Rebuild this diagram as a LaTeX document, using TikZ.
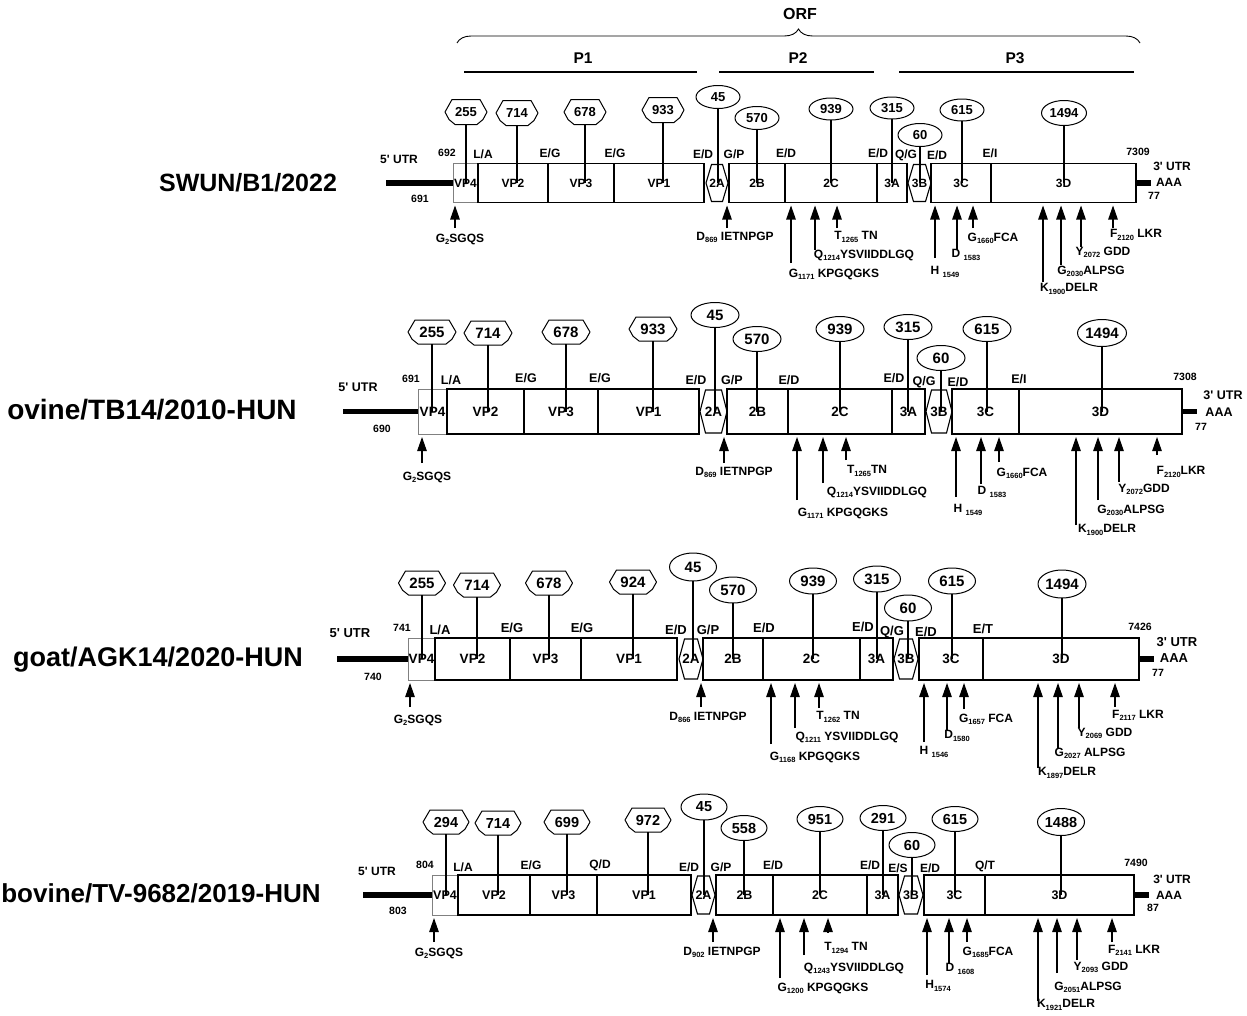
\documentclass[tikz,border=0pt]{standalone}
\usepackage{fontspec}
\setmainfont{Liberation Sans}
\usetikzlibrary{arrows.meta,shapes.geometric,decorations.pathreplacing}
\newcommand\fs[1]{\fontsize{#1}{#1}\selectfont\bfseries}
\newcommand\sub[1]{\raisebox{-0.35ex}{\fontsize{7.5}{8}\selectfont\bfseries #1}}
\newcommand\q{\textquotesingle}
\def\segsz{12}\def\numsz{13}
\tikzset{
 every node/.style={inner sep=0pt,outer sep=0pt,font=\fs{12}},
 segbox/.style={draw,line width=1.1pt,font=\fs{\segsz}},
 vpfour/.style={draw=black!50,line width=0.7pt,font=\fs{\segsz}},
 hexline/.style={line width=1.1pt},
 octline/.style={line width=1pt,line join=round},
 ovalbox/.style={draw,ellipse,line width=1pt,font=\fs{\numsz}},
 stemline/.style={line width=1.1pt},
 cutarr/.style={line width=1.1pt,shorten >=3pt,-{Triangle[width=9.5pt,length=14pt]}},
 utrline/.style={line width=5.5pt},
 pline/.style={line width=2pt},
}
\newcommand\gseg[7][segbox]{\node[#1,minimum width={#4-#3},minimum height={#6}] (#2) at ({(#3+#4)/2},#5) {#7};}
\newcommand\ghex[6]{\node[font=\fs{\segsz},minimum width={#3-#2},minimum height={#5}] (#1) at ({(#2+#3)/2},#4) {#6};
\draw[hexline] (#1.west) -- ([xshift=5.5pt]#1.north west) -- ([xshift=-5.5pt]#1.north east) -- (#1.east) -- ([xshift=-5.5pt]#1.south east) -- ([xshift=5.5pt]#1.south west) -- cycle;}
\newcommand\goct[6]{\node[font=\fs{\numsz},minimum width={2*#4},minimum height={2*#5}] (#1) at (#2,#3) {#6};
\draw[octline] (#1.west) -- ([xshift=7pt]#1.north west) -- ([xshift=-7pt]#1.north east) -- (#1.east)
 -- ([shift={(-4pt,{-0.6*#5*1pt})}]#1.east) -- ([xshift=-10pt]#1.south east) -- ([xshift=10pt]#1.south west)
 -- ([shift={(4pt,{-0.6*#5*1pt})}]#1.west) -- cycle;}
\newcommand\goval[6]{\node[ovalbox,minimum width=#4,minimum height=#5] (#1) at (#2,#3) {#6};}
\newcommand\gstem[2]{\draw[stemline] (#1.south) -- (#1.south |- #2.center);}
\newcommand\gcut[7]{\coordinate (#1) at (#2,#3);
\draw[cutarr] (#1) -- (#1 |- #4.south);
\node (#1l) at (#6,#7) {#5};}
\newcommand\glab[5]{\node[font=\fs{#4}] (#1) at (#2,#3) {#5};}
\begin{document}
\begin{tikzpicture}[x=1pt,y=-1pt]
\useasboundingbox (0,0) rectangle (1247,1015);
\fill[white] (0,0) rectangle (1247,1015);
% header
\node[font=\fs{16}] (orf) at (800,14) {ORF};
\coordinate (brL) at (457,43); \coordinate (brR) at (1140,43);
\draw[line width=0.9pt,decorate,decoration={brace,amplitude=14pt}] (brL) -- (brR);
\node[font=\fs{15.5}] (pone) at (583,58) {P1};
\node[font=\fs{15.5}] (ptwo) at (798,58) {P2};
\node[font=\fs{15.5}] (pthree) at (1015,58) {P3};
\coordinate (p1a) at (464,72); \coordinate (p1b) at (697,72);
\coordinate (p2a) at (719,72); \coordinate (p2b) at (874,72);
\coordinate (p3a) at (899,72); \coordinate (p3b) at (1134,72);
\draw[pline] (p1a) -- (p1b);
\draw[pline] (p2a) -- (p2b);
\draw[pline] (p3a) -- (p3b);
% titles
\node[font=\fs{25}] (tA) at (248,183) {SWUN/B1/2022};
\node[font=\fs{28}] (tB) at (152,410) {ovine/TB14/2010-HUN};
\node[font=\fs{27}] (tC) at (158,660) {goat/AGK14/2020-HUN};
\node[font=\fs{26}] (tD) at (161,893) {bovine/TV-9682/2019-HUN};

% ================= ROW 1
\def\segsz{12}\def\numsz{13}
\coordinate (aU5) at (386,183); \coordinate (aU3) at (1151,183);
\gseg[vpfour]{aV4}{453}{478}{183}{39}{VP4}
\gseg{aV2}{478}{548}{183}{39}{VP2}
\gseg{aV3}{548}{614}{183}{39}{VP3}
\gseg{aV1}{614}{704}{183}{39}{VP1}
\ghex{a2A}{706}{728}{183}{37}{2A}
\gseg{a2B}{729}{785}{183}{39}{2B}
\gseg{a2C}{785}{877}{183}{39}{2C}
\gseg{a3A}{877}{907}{183}{39}{3A}
\ghex{a3B}{908}{931}{183}{37}{3B}
\gseg{a3C}{931}{991}{183}{39}{3C}
\gseg{a3D}{991}{1136}{183}{39}{3D}
\draw[utrline] (aU5) -- (aV4.west);
\draw[utrline] (a3D.east) -- (aU3);
\goct{aN1}{466}{112}{21}{12.5}{255}
\goct{aN2}{517}{113}{21}{12.5}{714}
\goct{aN3}{585}{112}{21}{12.5}{678}
\goct{aN4}{663}{110}{21}{12.5}{933}
\goval{aN5}{718}{97}{44}{23}{45}
\goval{aN6}{757}{118}{44}{23}{570}
\goval{aN7}{831}{109}{44}{22}{939}
\goval{aN8}{892}{108}{44}{22}{315}
\goval{aN9}{920}{135}{44}{23}{60}
\goval{aN10}{962}{110}{44}{22}{615}
\goval{aN11}{1064}{113}{45}{25}{1494}
\gstem{aN1}{aV4}\gstem{aN2}{aV2}\gstem{aN3}{aV3}\gstem{aN4}{aV1}
\gstem{aN5}{a2A}\gstem{aN6}{a2B}\gstem{aN7}{a2C}\gstem{aN8}{a3A}
\gstem{aN9}{a3B}\gstem{aN10}{a3C}\gstem{aN11}{a3D}
\glab{aL1}{399}{159}{12}{5\q\ UTR}
\glab{aL2}{420}{199}{10.5}{691}
\glab{aL3}{447}{153}{10.5}{692}
\glab{aL4}{483}{154}{12}{L/A}
\glab{aL5}{550}{153}{12}{E/G}
\glab{aL6}{615}{153}{12}{E/G}
\glab{aL7}{703}{154}{12}{E/D}
\glab{aL8}{734}{154}{12}{G/P}
\glab{aL9}{786}{153}{12}{E/D}
\glab{aL10}{878}{153}{12}{E/D}
\glab{aL11}{906}{155}{12}{Q/G}
\glab{aL12}{937}{155}{12}{E/D}
\glab{aL13}{990}{153}{12}{E/I}
\glab{aL14}{1138}{152}{10.5}{7309}
\glab{aL15}{1172}{166}{12}{3\q\ UTR}
\glab{aL16}{1169}{182}{12}{AAA}
\glab{aL17}{1154}{196}{10.5}{77}
\gcut{aC1}{455}{228}{aV4}{G\sub{2}SGQS}{460}{239}
\gcut{aC2}{727}{228}{a2B}{D\sub{869} IETNPGP}{735}{237}
\gcut{aC3}{791}{263}{a2C}{G\sub{1171} KPGQGKS}{834}{274}
\gcut{aC4}{815}{250}{a2C}{Q\sub{1214}YSVIIDDLGQ}{864}{255}
\gcut{aC5}{837}{228}{a2C}{T\sub{1265} TN}{856}{237}
\gcut{aC6}{935}{258}{a3C}{H \sub{1549}}{945}{272}
\gcut{aC7}{957}{250}{a3C}{D \sub{1583}}{966}{255}
\gcut{aC8}{973}{228}{a3C}{G\sub{1660}FCA}{993}{238}
\gcut{aC9}{1043}{282}{a3D}{K\sub{1900}DELR}{1069}{289}
\gcut{aC10}{1061}{265}{a3D}{G\sub{2030}ALPSG}{1091}{271}
\gcut{aC11}{1081}{247}{a3D}{Y\sub{2072} GDD}{1103}{252}
\gcut{aC12}{1113}{228}{a3D}{F\sub{2120} LKR}{1136}{235}

% ================= ROW 2
\def\segsz{13.5}\def\numsz{15}
\coordinate (bU5) at (343,411.5); \coordinate (bU3) at (1197,411.5);
\gseg[vpfour]{bV4}{418}{447}{411.5}{45}{VP4}
\gseg{bV2}{447}{524}{411.5}{45}{VP2}
\gseg{bV3}{524}{598}{411.5}{45}{VP3}
\gseg{bV1}{598}{699}{411.5}{45}{VP1}
\ghex{b2A}{700}{727}{411.5}{43}{2A}
\gseg{b2B}{727}{788}{411.5}{45}{2B}
\gseg{b2C}{788}{892}{411.5}{45}{2C}
\gseg{b3A}{892}{925}{411.5}{45}{3A}
\ghex{b3B}{926}{952}{411.5}{43}{3B}
\gseg{b3C}{952}{1019}{411.5}{45}{3C}
\gseg{b3D}{1019}{1182}{411.5}{45}{3D}
\draw[utrline] (bU5) -- (bV4.west);
\draw[utrline] (b3D.east) -- (bU3);
\goct{bN1}{432}{332}{24}{12}{255}
\goct{bN2}{488}{333}{24}{12}{714}
\goct{bN3}{566}{332}{24}{12}{678}
\goct{bN4}{653}{329}{24}{12}{933}
\goval{bN5}{715}{315}{48}{25}{45}
\goval{bN6}{757}{339}{48}{25}{570}
\goval{bN7}{840}{329}{48}{25}{939}
\goval{bN8}{908}{327}{48}{25}{315}
\goval{bN9}{941}{358}{48}{25}{60}
\goval{bN10}{987}{329}{48}{25}{615}
\goval{bN11}{1102}{333}{49}{27}{1494}
\gstem{bN1}{bV4}\gstem{bN2}{bV2}\gstem{bN3}{bV3}\gstem{bN4}{bV1}
\gstem{bN5}{b2A}\gstem{bN6}{b2B}\gstem{bN7}{b2C}\gstem{bN8}{b3A}
\gstem{bN9}{b3B}\gstem{bN10}{b3C}\gstem{bN11}{b3D}
\glab{bL1}{358}{387}{12.5}{5\q\ UTR}
\glab{bL2}{382}{429}{10.5}{690}
\glab{bL3}{411}{379}{10.5}{691}
\glab{bL4}{451}{380}{12.5}{L/A}
\glab{bL5}{526}{378}{12.5}{E/G}
\glab{bL6}{600}{378}{12.5}{E/G}
\glab{bL7}{696}{380}{12.5}{E/D}
\glab{bL8}{732}{380}{12.5}{G/P}
\glab{bL9}{789}{380}{12.5}{E/D}
\glab{bL10}{894}{378}{12.5}{E/D}
\glab{bL11}{924}{382}{12.5}{Q/G}
\glab{bL12}{958}{382}{12.5}{E/D}
\glab{bL13}{1019}{379}{12.5}{E/I}
\glab{bL14}{1185}{377}{10.5}{7308}
\glab{bL15}{1223}{395}{12.5}{3\q\ UTR}
\glab{bL16}{1219}{412}{12.5}{AAA}
\glab{bL17}{1201}{427}{10.5}{77}
\gcut{bC1}{422}{463}{bV4}{G\sub{2}SGQS}{427}{477}
\gcut{bC2}{724}{463}{b2B}{D\sub{869} IETNPGP}{734}{472}
\gcut{bC3}{797}{500}{b2C}{G\sub{1171} KPGQGKS}{843}{513}
\gcut{bC4}{823}{483}{b2C}{Q\sub{1214}YSVIIDDLGQ}{877}{492}
\gcut{bC5}{846}{460}{b2C}{T\sub{1265}TN}{867}{471}
\gcut{bC6}{956}{497}{b3C}{H \sub{1549}}{968}{510}
\gcut{bC7}{981}{484}{b3C}{D \sub{1583}}{992}{492}
\gcut{bC8}{999}{462}{b3C}{G\sub{1660}FCA}{1022}{473}
\gcut{bC9}{1076}{525}{b3D}{K\sub{1900}DELR}{1107}{530}
\gcut{bC10}{1098}{500}{b3D}{G\sub{2030}ALPSG}{1131}{510}
\gcut{bC11}{1119}{482}{b3D}{Y\sub{2072}GDD}{1144}{489}
\gcut{bC12}{1157}{455}{b3D}{F\sub{2120}LKR}{1181}{472}

% ================= ROW 3
\def\segsz{13.5}\def\numsz{15}
\coordinate (cU5) at (337,659); \coordinate (cU3) at (1154,659);
\gseg[vpfour]{cV4}{408}{435}{659}{42}{VP4}
\gseg{cV2}{435}{510}{659}{42}{VP2}
\gseg{cV3}{510}{581}{659}{42}{VP3}
\gseg{cV1}{581}{677}{659}{42}{VP1}
\ghex{c2A}{679}{703}{659}{40}{2A}
\gseg{c2B}{703}{763}{659}{42}{2B}
\gseg{c2C}{763}{860}{659}{42}{2C}
\gseg{c3A}{860}{893}{659}{42}{3A}
\ghex{c3B}{894}{918}{659}{40}{3B}
\gseg{c3C}{919}{983}{659}{42}{3C}
\gseg{c3D}{983}{1139}{659}{42}{3D}
\draw[utrline] (cU5) -- (cV4.west);
\draw[utrline] (c3D.east) -- (cU3);
\goct{cN1}{422}{583}{23.5}{12}{255}
\goct{cN2}{477}{585}{23.5}{12}{714}
\goct{cN3}{549}{583}{23.5}{12}{678}
\goct{cN4}{633}{582}{23.5}{12}{924}
\goval{cN5}{693}{567}{47}{28}{45}
\goval{cN6}{733}{590}{47}{26}{570}
\goval{cN7}{813}{581}{47}{26}{939}
\goval{cN8}{877}{579}{47}{26}{315}
\goval{cN9}{908}{608}{47}{26}{60}
\goval{cN10}{952}{581}{47}{26}{615}
\goval{cN11}{1062}{584}{48}{28}{1494}
\gstem{cN1}{cV4}\gstem{cN2}{cV2}\gstem{cN3}{cV3}\gstem{cN4}{cV1}
\gstem{cN5}{c2A}\gstem{cN6}{c2B}\gstem{cN7}{c2C}\gstem{cN8}{c3A}
\gstem{cN9}{c3B}\gstem{cN10}{c3C}\gstem{cN11}{c3D}
\glab{cL1}{350}{633}{13}{5\q\ UTR}
\glab{cL2}{373}{677}{10.5}{740}
\glab{cL3}{402}{628}{10.5}{741}
\glab{cL4}{440}{630}{13}{L/A}
\glab{cL5}{512}{628}{13}{E/G}
\glab{cL6}{582}{628}{13}{E/G}
\glab{cL7}{676}{630}{13}{E/D}
\glab{cL8}{708}{630}{13}{G/P}
\glab{cL9}{764}{628}{13}{E/D}
\glab{cL10}{863}{627}{13}{E/D}
\glab{cL11}{892}{632}{13}{Q/G}
\glab{cL12}{926}{632}{13}{E/D}
\glab{cL13}{983}{629}{13}{E/T}
\glab{cL14}{1140}{627}{10.5}{7426}
\glab{cL15}{1177}{642}{13}{3\q\ UTR}
\glab{cL16}{1174}{658}{13}{AAA}
\glab{cL17}{1158}{673}{10.5}{77}
\gcut{cC1}{410}{707}{cV4}{G\sub{2}SGQS}{418}{720}
\gcut{cC2}{701}{707}{c2B}{D\sub{866} IETNPGP}{708}{717}
\gcut{cC3}{771}{744}{c2C}{G\sub{1168} KPGQGKS}{815}{757}
\gcut{cC4}{795}{728}{c2C}{Q\sub{1211} YSVIIDDLGQ}{847}{737}
\gcut{cC5}{819}{708}{c2C}{T\sub{1262} TN}{838}{717}
\gcut{cC6}{924}{742}{c3C}{H \sub{1546}}{934}{752}
\gcut{cC7}{947}{730}{c3C}{D\sub{1580}}{957}{736}
\gcut{cC8}{964}{709}{c3C}{G\sub{1657} FCA}{986}{719}
\gcut{cC9}{1038}{768}{c3D}{K\sub{1897}DELR}{1067}{773}
\gcut{cC10}{1058}{748}{c3D}{G\sub{2027} ALPSG}{1090}{753}
\gcut{cC11}{1079}{728}{c3D}{Y\sub{2069} GDD}{1105}{733}
\gcut{cC12}{1115}{707}{c3D}{F\sub{2117} LKR}{1138}{715}

% ================= ROW 4
\def\segsz{12.5}\def\numsz{14.5}
\coordinate (dU5) at (363,895); \coordinate (dU3) at (1149,895);
\gseg[vpfour]{dV4}{432}{458}{895}{40}{VP4}
\gseg{dV2}{458}{530}{895}{40}{VP2}
\gseg{dV3}{530}{597}{895}{40}{VP3}
\gseg{dV1}{597}{691}{895}{40}{VP1}
\ghex{d2A}{692}{715}{895}{38}{2A}
\gseg{d2B}{716}{773}{895}{40}{2B}
\gseg{d2C}{773}{867}{895}{40}{2C}
\gseg{d3A}{867}{898}{895}{40}{3A}
\ghex{d3B}{899}{923}{895}{38}{3B}
\gseg{d3C}{924}{985}{895}{40}{3C}
\gseg{d3D}{985}{1134}{895}{40}{3D}
\draw[utrline] (dU5) -- (dV4.west);
\draw[utrline] (d3D.east) -- (dU3);
\goct{dN1}{446}{822}{23}{12}{294}
\goct{dN2}{498}{823}{23}{12}{714}
\goct{dN3}{567}{822}{23}{12}{699}
\goct{dN4}{648}{820}{23}{12}{972}
\goval{dN5}{704}{807}{46}{26}{45}
\goval{dN6}{744}{828}{46}{25}{558}
\goval{dN7}{820}{819}{46}{25}{951}
\goval{dN8}{883}{818}{46}{25}{291}
\goval{dN9}{912}{845}{46}{25}{60}
\goval{dN10}{955}{819}{46}{25}{615}
\goval{dN11}{1061}{822}{47}{27}{1488}
\gstem{dN1}{dV4}\gstem{dN2}{dV2}\gstem{dN3}{dV3}\gstem{dN4}{dV1}
\gstem{dN5}{d2A}\gstem{dN6}{d2B}\gstem{dN7}{d2C}\gstem{dN8}{d3A}
\gstem{dN9}{d3B}\gstem{dN10}{d3C}\gstem{dN11}{d3D}
\glab{dL1}{377}{871}{12}{5\q\ UTR}
\glab{dL2}{398}{911}{10.5}{803}
\glab{dL3}{425}{865}{10.5}{804}
\glab{dL4}{463}{867}{12}{L/A}
\glab{dL5}{531}{865}{12}{E/G}
\glab{dL6}{600}{865}{12}{Q/D}
\glab{dL7}{689}{867}{12}{E/D}
\glab{dL8}{721}{867}{12}{G/P}
\glab{dL9}{773}{865}{12}{E/D}
\glab{dL10}{870}{865}{12}{E/D}
\glab{dL11}{898}{868}{12}{E/S}
\glab{dL12}{930}{868}{12}{E/D}
\glab{dL13}{985}{866}{12}{Q/T}
\glab{dL14}{1136}{863}{10.5}{7490}
\glab{dL15}{1172}{879}{12}{3\q\ UTR}
\glab{dL16}{1169}{895}{12}{AAA}
\glab{dL17}{1153}{908}{10.5}{87}
\gcut{dC1}{434}{942}{dV4}{G\sub{2}SGQS}{439}{953}
\gcut{dC2}{713}{942}{d2B}{D\sub{902} IETNPGP}{722}{952}
\gcut{dC3}{780}{978}{d2C}{G\sub{1200} KPGQGKS}{823}{988}
\gcut{dC4}{804}{955}{d2C}{Q\sub{1243}YSVIIDDLGQ}{854}{968}
\gcut{dC5}{828}{932}{d2C}{T\sub{1294} TN}{846}{948}
\gcut{dC6}{927}{975}{d3C}{H\sub{1574}}{938}{986}
\gcut{dC7}{949}{963}{d3C}{D \sub{1608}}{960}{969}
\gcut{dC8}{967}{942}{d3C}{G\sub{1685}FCA}{988}{952}
\gcut{dC9}{1038}{1001}{d3D}{K\sub{1921}DELR}{1066}{1005}
\gcut{dC10}{1057}{973}{d3D}{G\sub{2051}ALPSG}{1088}{987}
\gcut{dC11}{1077}{960}{d3D}{Y\sub{2093} GDD}{1101}{967}
\gcut{dC12}{1112}{942}{d3D}{F\sub{2141} LKR}{1134}{950}
\end{tikzpicture}
\end{document}
